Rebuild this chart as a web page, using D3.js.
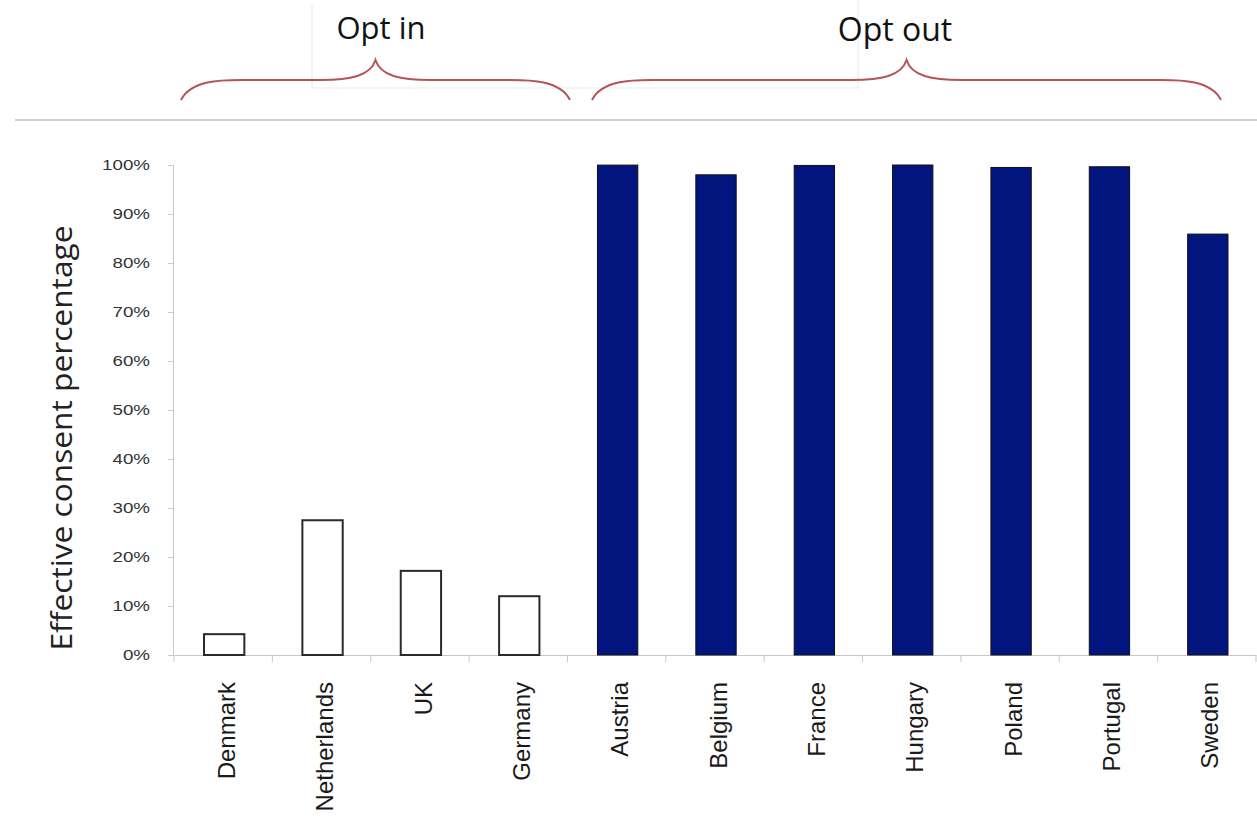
<!DOCTYPE html>
<html><head><meta charset="utf-8">
<script src="https://cdn.jsdelivr.net/npm/d3@7"></script>
<style>html,body{margin:0;padding:0;background:#fff;}</style>
</head><body>
<svg id="chart" width="1257" height="840"></svg>
<script>
const categories = ["Denmark","Netherlands","UK","Germany","Austria","Belgium","France","Hungary","Poland","Portugal","Sweden"];
const values = [4.25, 27.5, 17.17, 12, 99.98, 98, 99.91, 99.997, 99.5, 99.64, 85.9];
const groups = ["in","in","in","in","out","out","out","out","out","out","out"];
const yTicks = [0,10,20,30,40,50,60,70,80,90,100];
const groupLabels = [{name:"Opt in", first:"Denmark", last:"Germany"},{name:"Opt out", first:"Austria", last:"Sweden"}];

const svg = d3.select("#chart");
const x = d3.scaleBand().domain(categories).range([174, 1256]).paddingInner(0).paddingOuter(0);
const y = d3.scaleLinear().domain([0,100]).range([655,165]);

// top rule and faint box
svg.append("line").attr("x1",15).attr("x2",1257).attr("y1",120).attr("y2",120).attr("stroke","#cfcfcf").attr("stroke-width",2);
svg.append("path").attr("d","M312,5 V88 H858 V0").attr("fill","none").attr("stroke","#ececec").attr("stroke-width",1.2);

// axes
const yAxis = svg.append("g").attr("transform","translate(173,0)")
  .call(d3.axisLeft(y).tickValues(yTicks).tickFormat(d=>d+"%").tickSize(5).tickPadding(18));
yAxis.select(".domain").attr("stroke","#c8c8c8");
yAxis.selectAll(".tick line").attr("stroke","#c8c8c8");
yAxis.selectAll(".tick text").attr("font-family","'Liberation Sans', Arial, sans-serif").attr("font-size",15).attr("fill","#333")
  .attr("x",0).attr("transform","translate(-23,0) scale(1.25,1)");

const xAxis = svg.append("g").attr("transform","translate(0,655)")
  .call(d3.axisBottom(x).tickSize(0).tickFormat(d=>d));
xAxis.select(".domain").attr("stroke","#c8c8c8");
xAxis.selectAll(".tick text").attr("font-family","'Liberation Sans', Arial, sans-serif").attr("font-size",24).attr("fill","#1a1a1a")
  .attr("text-anchor","end").attr("x",-27).attr("y",0).attr("dy","0.36em")
  .attr("transform","translate(3,0) rotate(-90)");
// band boundary ticks
const bounds = categories.map(c=>x(c)).concat([x(categories[categories.length-1])+x.bandwidth()]);
svg.append("g").selectAll("line").data(bounds).join("line")
  .attr("x1",d=>d).attr("x2",d=>d).attr("y1",655).attr("y2",662).attr("stroke","#c8c8c8");

// bars
const bw = x.bandwidth()*0.41;
svg.append("g").selectAll("rect").data(categories).join("rect")
  .attr("x",(d)=>x(d)+x.bandwidth()/2-bw/2+1)
  .attr("y",(d,i)=>y(values[i]))
  .attr("width",bw)
  .attr("height",(d,i)=>y(0)-y(values[i]))
  .attr("fill",(d,i)=>groups[i]==="in"?"#fff":"#02157f")
  .attr("stroke",(d,i)=>groups[i]==="in"?"#2a2a2a":"#111")
  .attr("stroke-width",(d,i)=>groups[i]==="in"?2:1);

// y label
svg.append("text").attr("transform","translate(72,438) rotate(-90)").attr("text-anchor","middle")
  .attr("font-family","'Open Sans', sans-serif").attr("font-size",30).attr("fill","#222")
  .attr("textLength",425).attr("lengthAdjust","spacingAndGlyphs")
  .text("Effective consent percentage");

// braces
function brace(x0,x1,yb,ytip,yend){
  const m=(x0+x1)/2;
  return `M${x0},${yend} C${x0+10},${yb} ${x0+40},${yb} ${x0+60},${yb} L${m-55},${yb} C${m-25},${yb} ${m-5},${yb-4} ${m},${ytip} C${m+5},${yb-4} ${m+25},${yb} ${m+55},${yb} L${x1-60},${yb} C${x1-40},${yb} ${x1-10},${yb} ${x1},${yend}`;
}
const braceX = [[181,570],[592,1221]];
const braceG = svg.append("g");
groupLabels.forEach((g,i)=>{
  const [a,b] = braceX[i];
  braceG.append("path").attr("d",brace(a,b,80,60,100)).attr("fill","none").attr("stroke","#b65456").attr("stroke-width",2);
});
svg.append("text").attr("x",381).attr("y",39).attr("text-anchor","middle").attr("font-family","'Open Sans', sans-serif").attr("font-size",31).attr("fill","#111").text(groupLabels[0].name);
svg.append("text").attr("x",895).attr("y",41).attr("text-anchor","middle").attr("font-family","'Open Sans', sans-serif").attr("font-size",32).attr("fill","#111").text(groupLabels[1].name);
</script>
</body></html>
